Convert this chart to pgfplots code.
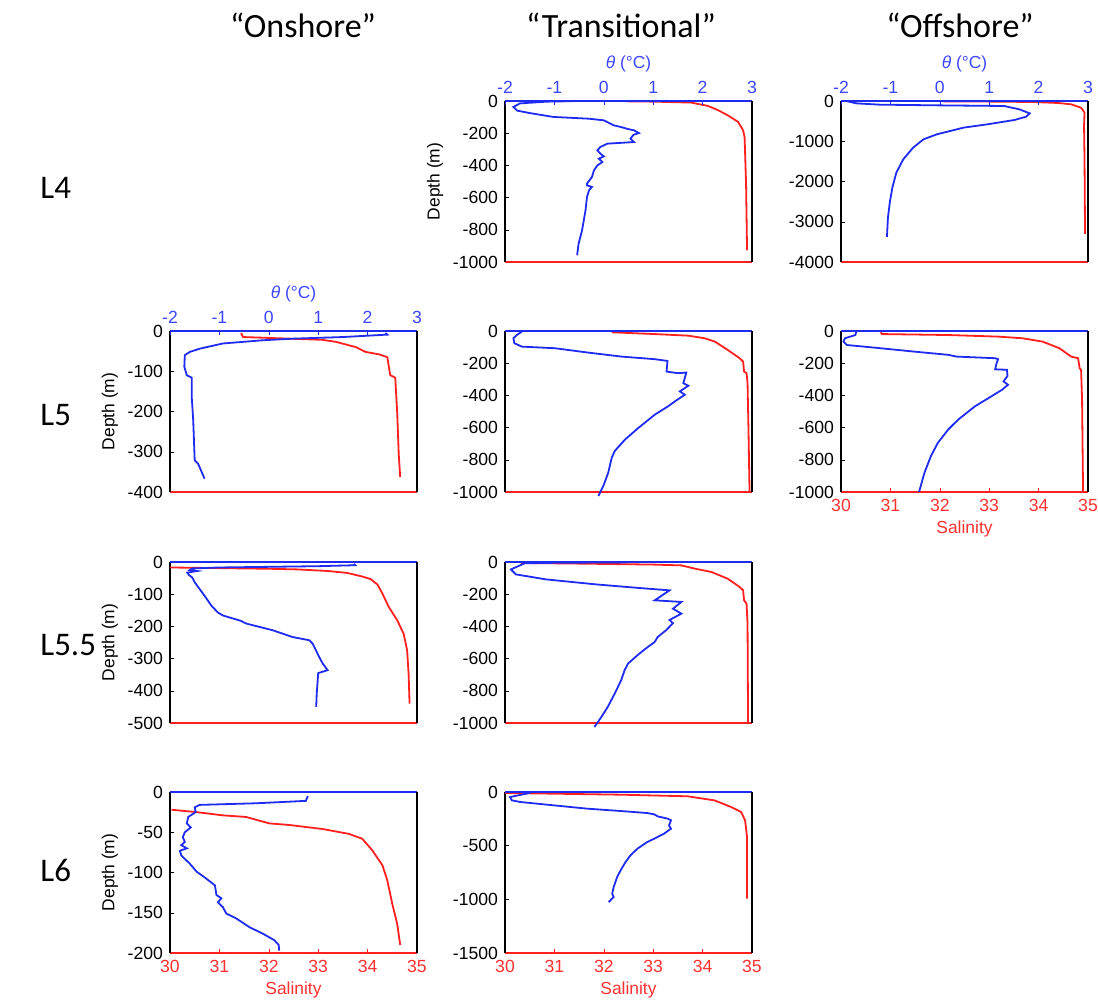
\documentclass[border=0pt]{standalone}
\usepackage{fontspec}
\setmainfont{Liberation Sans}
\newfontfamily\calib{Carlito}
\usepackage{pgfplots}
\pgfplotsset{compat=1.18}
\definecolor{tblue}{HTML}{1F2BF0}
\definecolor{sred}{HTML}{FF1F1F}
\definecolor{tlab}{HTML}{3C46FF}
\definecolor{slab}{HTML}{FF3030}

\pgfplotsset{
  panel/.style={scale only axis, width=123.5pt, height=80.5pt, anchor=north west,
    clip=false, ymax=0, tick align=inside, major tick length=2pt,
    tick label style={font=\fontsize{8.8}{10}\selectfont},
    label style={font=\fontsize{8.7}{10}\selectfont},
    /pgf/number format/assume math mode=true, /pgf/number format/1000 sep={},
    scaled ticks=false},
  % salinity axis: red bottom line, black left line with the depth ticks
  salax/.style={panel, xmin=30, xmax=35, axis x line*=bottom, axis y line*=left,
    x axis line style={sred, line width=1pt}, y axis line style={black, line width=1pt},
    xtick=\empty, ytick style={black}, yticklabel style={black}},
  % temperature axis: blue top line, black right line
  tempax/.style={panel, xmin=-2, xmax=3, axis x line*=top, axis y line*=right,
    x axis line style={tblue, line width=1pt}, y axis line style={black, line width=1pt},
    xtick=\empty, ytick=\empty},
  showsal/.style={xtick={30,31,...,35}, xtick style={sred}, xticklabel style={slab},
    xlabel={Salinity}, xlabel style={slab, yshift=2pt}},
  showtemp/.style={xtick={-2,-1,...,3}, xtick style={tblue}, xticklabel style={tlab},
    xlabel={{\itshape θ}\ (°C)}, xlabel style={tlab, yshift=-2pt}},
  depth/.style={ylabel={Depth (m)}, ylabel style={black, yshift=-2pt}},
  sal/.style={sred, line width=0.9pt},
  temp/.style={tblue, line width=0.9pt},
}

\begin{document}
\begin{tikzpicture}
\path[use as bounding box] (0pt,0pt) rectangle (549pt,-500pt);

% column titles and row labels
\node[font=\calib\fontsize{17}{20}\selectfont] at (151.5pt,-12.5pt) {“Onshore”};
\node[font=\calib\fontsize{17}{20}\selectfont] at (310.5pt,-12.5pt) {“Transitional”};
\node[font=\calib\fontsize{17}{20}\selectfont] at (480pt,-12.5pt) {“Offshore”};
\begin{scope}[every node/.style={font=\calib\fontsize{16.5}{20}\selectfont, anchor=west, inner sep=0pt}]
\node at (20pt,-94pt) {L4};
\node at (20pt,-207.5pt) {L5};
\node at (20pt,-322.5pt) {L5.5};
\node at (20pt,-435pt) {L6};
\end{scope}

% ---- L4 transitional
\begin{axis}[salax, depth, at={(252.5pt,-50.5pt)}, ymin=-1000, ytick distance=200]
\addplot[sal] coordinates {(32.45,-2) (33.0,-4) (33.77,-10) (34.1,-30) (34.3,-55) (34.51,-89)
  (34.72,-130) (34.82,-182) (34.85,-224) (34.88,-513) (34.90,-927)};
\end{axis}
\begin{axis}[tempax, showtemp, at={(252.5pt,-50.5pt)}, ymin=-1000]
\addplot[temp] coordinates {(-0.61,-1) (-1.15,-4) (-1.70,-15) (-1.83,-37) (-1.75,-60) (-1.50,-75)
  (-1.02,-99) (-0.30,-110) (0.00,-120) (0.20,-151) (0.34,-161) (0.50,-175) (0.61,-182) (0.71,-199)
  (0.60,-210) (0.54,-234) (0.61,-255) (0.07,-265) (-0.07,-286) (-0.13,-306) (-0.07,-327) (0.00,-344)
  (-0.10,-358) (-0.03,-379) (-0.13,-400) (-0.20,-431) (-0.24,-472) (-0.34,-513) (-0.34,-524)
  (-0.24,-534) (-0.30,-555) (-0.34,-596) (-0.37,-679) (-0.44,-803) (-0.51,-886) (-0.54,-958)};
\end{axis}

% ---- L4 offshore
\begin{axis}[salax, at={(420.5pt,-50.5pt)}, ymin=-4000, ytick distance=1000]
\addplot[sal] coordinates {(32.07,-10) (33.0,-15) (33.9,-25) (34.4,-50) (34.66,-83) (34.86,-166)
  (34.93,-290) (34.92,-621) (34.93,-1500) (34.94,-3300)};
\end{axis}
\begin{axis}[tempax, showtemp, at={(420.5pt,-50.5pt)}, ymin=-4000]
\addplot[temp] coordinates {(-1.90,0) (-1.69,-58) (-1.22,-91) (-0.06,-108) (1.30,-124) (1.61,-207)
  (1.82,-306) (1.75,-389) (1.51,-472) (0.96,-580) (0.48,-662) (-0.06,-828) (-0.33,-952)
  (-0.54,-1159) (-0.74,-1449) (-0.88,-1780) (-0.96,-2150) (-1.01,-2500) (-1.05,-2900) (-1.07,-3378)};
\end{axis}

% ---- L5 onshore
\begin{axis}[salax, depth, at={(85pt,-165.5pt)}, ymin=-400, ytick distance=100]
\addplot[sal] coordinates {(31.44,-5) (31.48,-15) (32.42,-19) (33.09,-22) (33.36,-27) (33.76,-40)
  (33.96,-52) (34.23,-58) (34.40,-65) (34.43,-89) (34.46,-110) (34.56,-116) (34.60,-205)
  (34.63,-305) (34.66,-363)};
\end{axis}
\begin{axis}[tempax, showtemp, at={(85pt,-165.5pt)}, ymin=-400]
\addplot[temp] coordinates {(2.36,-5) (2.40,-9) (1.5,-15) (0.5,-19) (-0.12,-23) (-0.93,-31)
  (-1.40,-44) (-1.60,-52) (-1.70,-60) (-1.71,-89) (-1.66,-110) (-1.56,-116) (-1.56,-164)
  (-1.53,-222) (-1.50,-321) (-1.43,-330) (-1.36,-350) (-1.30,-367)};
\end{axis}

% ---- L5 transitional
\begin{axis}[salax, at={(252.5pt,-165.5pt)}, ymin=-1000, ytick distance=200]
\addplot[sal] coordinates {(32.16,-8) (33.03,-19) (33.71,-29) (34.04,-45) (34.25,-66) (34.51,-118)
  (34.75,-169) (34.82,-190) (34.84,-252) (34.89,-262) (34.91,-324) (34.93,-633) (34.95,-994)};
\end{axis}
\begin{axis}[tempax, at={(252.5pt,-165.5pt)}, ymin=-1000]
\addplot[temp] coordinates {(-1.66,-4) (-1.76,-25) (-1.83,-45) (-1.81,-76) (-1.66,-97) (-0.99,-107)
  (-0.32,-134) (0.36,-159) (1.03,-175) (1.29,-186) (1.27,-252) (1.50,-262) (1.67,-258) (1.61,-324)
  (1.71,-340) (1.54,-375) (1.64,-396) (1.44,-437) (1.30,-468) (1.03,-520) (0.70,-602) (0.43,-674)
  (0.22,-746) (0.16,-788) (0.09,-880) (-0.01,-963) (-0.11,-1025)};
\end{axis}

% ---- L5 offshore
\begin{axis}[salax, showsal, at={(420.5pt,-165.5pt)}, ymin=-1000, ytick distance=200]
\addplot[sal] coordinates {(30.80,-8) (30.83,-19) (32.17,-25) (33.19,-35) (33.67,-45) (34.08,-66)
  (34.42,-107) (34.66,-159) (34.80,-169) (34.83,-231) (34.86,-241) (34.88,-427) (34.90,-1000)};
\end{axis}
\begin{axis}[tempax, at={(420.5pt,-165.5pt)}, ymin=-1000]
\addplot[temp] coordinates {(-1.69,-4) (-1.71,-25) (-1.92,-45) (-1.95,-66) (-1.88,-87) (-1.20,-107)
  (-0.52,-128) (0.17,-148) (0.34,-159) (1.12,-169) (1.18,-175) (1.15,-200) (1.12,-238) (1.36,-241)
  (1.37,-280) (1.29,-313) (1.38,-334) (1.26,-365) (0.99,-416) (0.71,-468) (0.37,-551) (0.17,-612)
  (-0.04,-695) (-0.18,-777) (-0.31,-880) (-0.42,-1000)};
\end{axis}

% ---- L5.5 onshore
\begin{axis}[salax, depth, at={(85pt,-281pt)}, ymin=-500, ytick distance=100]
\addplot[sal] coordinates {(30.0,-17) (31.0,-19) (32.0,-21) (32.58,-23) (33.2,-28) (33.59,-34)
  (33.89,-45) (34.06,-53) (34.20,-70) (34.30,-98) (34.43,-140) (34.60,-181) (34.73,-223)
  (34.80,-274) (34.83,-347) (34.85,-440)};
\end{axis}
\begin{axis}[tempax, at={(85pt,-281pt)}, ymin=-500]
\addplot[temp] coordinates {(1.72,-6) (1.75,-10) (1.0,-13) (0,-15) (-1.0,-17) (-1.55,-20) (-1.60,-25)
  (-1.45,-28) (-1.65,-33) (-1.62,-40) (-1.55,-48) (-1.50,-63) (-1.40,-84) (-1.30,-105) (-1.16,-136)
  (-1.03,-157) (-0.93,-166) (-0.56,-183) (-0.46,-191) (0.08,-212) (0.48,-233) (0.82,-243)
  (0.89,-254) (1.02,-295) (1.09,-315) (1.19,-336) (1.00,-345) (0.99,-367) (0.97,-409) (0.96,-450)};
\end{axis}

% ---- L5.5 transitional
\begin{axis}[salax, at={(252.5pt,-281pt)}, ymin=-1000, ytick distance=200]
\addplot[sal] coordinates {(30.32,-6) (31.5,-10) (33.0,-16) (33.57,-21) (33.84,-41) (34.18,-62)
  (34.51,-104) (34.75,-155) (34.82,-176) (34.84,-238) (34.89,-259) (34.91,-383) (34.92,-994)};
\end{axis}
\begin{axis}[tempax, at={(252.5pt,-281pt)}, ymin=-1000]
\addplot[temp] coordinates {(0.52,-2) (0.0,-3) (-1.0,-5) (-1.6,-8) (-1.88,-46) (-1.78,-77)
  (-1.17,-108) (-0.16,-139) (0.66,-160) (1.33,-176) (1.03,-238) (1.57,-248) (1.40,-290) (1.57,-321)
  (1.33,-360) (1.40,-380) (1.26,-424) (1.09,-466) (1.03,-497) (0.89,-528) (0.72,-569) (0.49,-631)
  (0.42,-673) (0.35,-735) (0.22,-818) (0.08,-900) (-0.05,-963) (-0.19,-1025)};
\end{axis}

% ---- L6 onshore
\begin{axis}[salax, showsal, depth, at={(85pt,-396pt)}, ymin=-200, ytick distance=50]
\addplot[sal] coordinates {(30.03,-22) (30.54,-25) (31.07,-29) (31.54,-31) (32.01,-39) (32.42,-41)
  (33.09,-46) (33.62,-52) (33.89,-58) (34.09,-72) (34.30,-91) (34.40,-110) (34.50,-139)
  (34.60,-164) (34.66,-190)};
\end{axis}
\begin{axis}[tempax, at={(85pt,-396pt)}, ymin=-200]
\addplot[temp] coordinates {(0.79,-5) (0.75,-11) (0.42,-12) (-0.26,-14) (-1.40,-16) (-1.50,-19)
  (-1.48,-25) (-1.63,-31) (-1.66,-39) (-1.58,-44) (-1.70,-50) (-1.74,-56) (-1.70,-62) (-1.77,-66)
  (-1.66,-70) (-1.80,-73) (-1.77,-79) (-1.60,-89) (-1.46,-99) (-1.30,-106) (-1.09,-116)
  (-1.06,-128) (-0.96,-132) (-1.03,-137) (-0.93,-143) (-0.86,-151) (-0.66,-157) (-0.39,-168)
  (-0.12,-176) (0.11,-184) (0.20,-190) (0.21,-197)};
\end{axis}

% ---- L6 transitional
\begin{axis}[salax, showsal, at={(252.5pt,-396pt)}, ymin=-1500, ytick distance=500]
\addplot[sal] coordinates {(30.0,-9) (32.34,-25) (33.70,-40) (34.24,-78) (34.58,-140) (34.78,-186)
  (34.86,-264) (34.90,-419) (34.90,-994)};
\end{axis}
\begin{axis}[tempax, at={(252.5pt,-396pt)}, ymin=-1500]
\addplot[temp] coordinates {(-1.49,-8) (-1.90,-47) (-1.86,-78) (-1.69,-93) (-1.02,-124) (-0.34,-155)
  (0.34,-177) (0.88,-196) (1.02,-208) (1.09,-227) (1.29,-248) (1.36,-264) (1.32,-311) (1.36,-342)
  (1.22,-388) (1.02,-435) (0.88,-466) (0.68,-528) (0.54,-590) (0.44,-652) (0.34,-730) (0.27,-792)
  (0.20,-885) (0.17,-947) (0.20,-978) (0.10,-1025)};
\end{axis}
\end{tikzpicture}
\end{document}
